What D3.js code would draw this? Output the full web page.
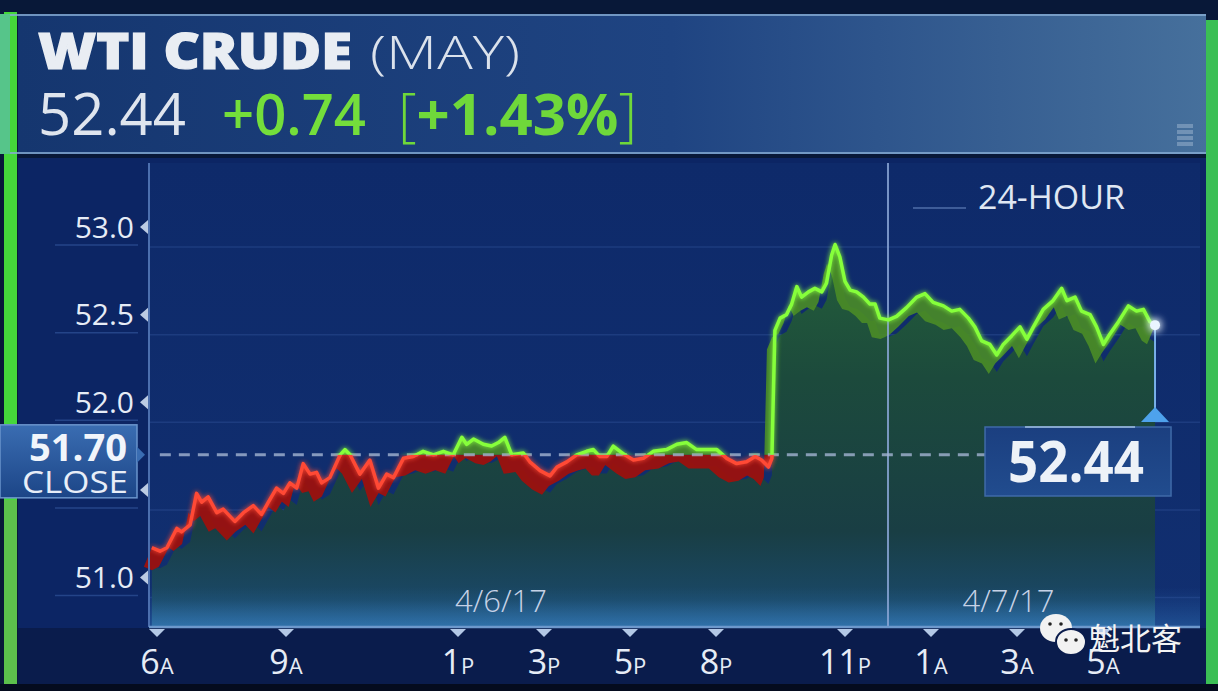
<!DOCTYPE html>
<html>
<head>
<meta charset="utf-8">
<script src="https://cdn.jsdelivr.net/npm/d3@7"></script>
<style>
  html, body { margin: 0; padding: 0; background: #07142f; }
  svg { display: block; font-family: 'Open Sans', 'DejaVu Sans', sans-serif; }
</style>
</head>
<body>
<div id="chart"></div>
<script>
// trading hours since 6A (the 5P-6P break is skipped) and WTI price
const hours = [
  -0.12, 0.07, 0.23, 0.46, 0.57, 0.77, 0.92, 1.04, 1.19, 1.39,
  1.54, 1.81, 2.01, 2.24, 2.43, 2.59, 2.78, 2.94, 3.09, 3.25,
  3.40, 3.56, 3.71, 3.83, 4.02, 4.26, 4.37, 4.49, 4.72, 4.95,
  5.15, 5.34, 5.50, 5.73, 5.96, 6.19, 6.43, 6.66, 6.89, 7.09,
  7.20, 7.36, 7.59, 7.78, 7.94, 8.09, 8.25, 8.52, 8.67, 8.91,
  9.14, 9.30, 9.53, 9.76, 9.99, 10.15, 10.30, 10.46, 10.61, 10.77,
  10.88, 11.08, 11.31, 11.54, 11.85, 12.09, 12.32, 12.55, 12.78, 13.02,
  13.25, 13.48, 13.71, 13.91, 14.06, 14.22, 14.30,
  14.32,
  14.37, 14.49, 14.64, 14.76, 14.88, 14.99, 15.15, 15.30, 15.46, 15.57,
  15.69, 15.77, 15.88, 16.00, 16.12, 16.27, 16.43, 16.58, 16.70, 16.81,
  17.01, 17.20, 17.43, 17.67, 17.86, 18.05, 18.29, 18.48, 18.67, 18.87,
  19.02, 19.18, 19.37, 19.53, 19.68, 19.88, 20.07, 20.23, 20.38, 20.61,
  20.84, 21.04, 21.16, 21.35, 21.50, 21.70, 21.85, 22.01, 22.16, 22.36,
  22.59, 22.78, 22.94, 23.09, 23.21
];
const prices = [
  51.17, 51.15, 51.17, 51.28, 51.26, 51.30, 51.48, 51.43, 51.46, 51.37,
  51.39, 51.32, 51.37, 51.41, 51.36, 51.43, 51.51, 51.48, 51.54, 51.51,
  51.65, 51.59, 51.60, 51.54, 51.57, 51.70, 51.73, 51.70, 51.59, 51.67,
  51.51, 51.59, 51.57, 51.68, 51.69, 51.72, 51.70, 51.72, 51.70, 51.80,
  51.76, 51.79, 51.76, 51.75, 51.77, 51.80, 51.70, 51.71, 51.66, 51.61,
  51.58, 51.63, 51.66, 51.70, 51.72, 51.73, 51.69, 51.69, 51.75, 51.72,
  51.70, 51.67, 51.68, 51.72, 51.73, 51.76, 51.77, 51.73, 51.73, 51.73,
  51.68, 51.65, 51.66, 51.69, 51.67, 51.63, 51.68,
  51.90,
  52.41, 52.48, 52.50, 52.56, 52.66, 52.60, 52.63, 52.65, 52.63, 52.68,
  52.84, 52.90, 52.83, 52.69, 52.64, 52.63, 52.60, 52.56, 52.56, 52.48,
  52.47, 52.49, 52.54, 52.60, 52.62, 52.57, 52.55, 52.52, 52.53, 52.48,
  52.43, 52.35, 52.33, 52.27, 52.33, 52.38, 52.43, 52.36, 52.43, 52.53,
  52.58, 52.65, 52.58, 52.60, 52.52, 52.50, 52.43, 52.33, 52.39, 52.46,
  52.55, 52.52, 52.53, 52.46, 52.44
];

const yTicks = [51.0, 51.5, 52.0, 52.5, 53.0];
const xTickHours = [0, 3, 7, 9, 11, 13, 16, 18, 20, 22];
const xTickLabels = ['6A', '9A', '1P', '3P', '5P', '8P', '11P', '1A', '3A', '5A'];
const dateHours = [8, 19.8];
const dateLabels = ['4/6/17', '4/7/17'];
const midnightHour = 17;

const closePrice = 51.70;
const lastPrice = 52.44;
const netChange = '+0.74';
const pctChange = '+1.43%';

const W = 1218, H = 691;
const plot = { left: 149, right: 1200, top: 163, bottom: 627 };

const data = hours.map((h, i) => ({ h, p: prices[i] }));

const x = d3.scaleLinear().domain([0, 22]).range([157, 1103]);
const y = d3.scaleLinear().domain([51, 53]).range([577.5, 227]);

const svg = d3.select('#chart').append('svg')
    .attr('width', W)
    .attr('height', H);

const defs = svg.append('defs');

function linGrad(id, stops, vertical = true, units) {
    const g = defs.append('linearGradient').attr('id', id)
        .attr('x1', 0).attr('y1', 0)
        .attr('x2', vertical ? 0 : 1).attr('y2', vertical ? 1 : 0);
    if (units) {
        g.attr('gradientUnits', 'userSpaceOnUse')
            .attr('x1', units[0]).attr('y1', units[1])
            .attr('x2', units[2]).attr('y2', units[3]);
    }
    stops.forEach(s => g.append('stop')
        .attr('offset', s[0])
        .attr('stop-color', s[1])
        .attr('stop-opacity', s[2] ?? 1));
}

linGrad('headerGrad', [[0, '#15366f'], [0.55, '#1f4482'], [1, '#46709c']], false);
linGrad('plotGrad', [[0, '#0e2a6a'], [1, '#112f70']]);
linGrad('fillGrad', [[0, '#24603a'], [0.35, '#1c4a3c'], [0.75, '#193e44'], [0.93, '#1a4866'], [1, '#2a6496']],
    true, [0, y(52.9), 0, plot.bottom]);
linGrad('closeBox', [[0, '#3a6db2'], [1, '#1c4587']]);
linGrad('lastBox', [[0, '#1b3f80'], [1, '#214c8e']]);
linGrad('bottomGlow', [[0, '#2f78c0', 0], [1, '#3b8ad0', 0.35]]);

const glow = defs.append('filter').attr('id', 'glow')
    .attr('x', '-10%').attr('y', '-10%').attr('width', '120%').attr('height', '120%');
glow.append('feGaussianBlur').attr('stdDeviation', 2.5).attr('result', 'b');
const merge = glow.append('feMerge');
merge.append('feMergeNode').attr('in', 'b');
merge.append('feMergeNode').attr('in', 'SourceGraphic');

const dotGlow = defs.append('filter').attr('id', 'dotGlow')
    .attr('x', '-200%').attr('y', '-200%').attr('width', '500%').attr('height', '500%');
dotGlow.append('feGaussianBlur').attr('stdDeviation', 4).attr('result', 'b');
const m2 = dotGlow.append('feMerge');
m2.append('feMergeNode').attr('in', 'b');
m2.append('feMergeNode').attr('in', 'b');
m2.append('feMergeNode').attr('in', 'SourceGraphic');

const yClose = y(closePrice);
defs.append('clipPath').attr('id', 'above')
    .append('rect').attr('x', 0).attr('y', 0).attr('width', W).attr('height', yClose);
defs.append('clipPath').attr('id', 'below')
    .append('rect').attr('x', 0).attr('y', yClose).attr('width', W).attr('height', H - yClose);

// ---- backgrounds ----
svg.append('rect').attr('width', W).attr('height', H).attr('fill', '#081838');
svg.append('rect').attr('x', 18).attr('y', 158).attr('width', 1188).attr('height', 470).attr('fill', '#0c2564');
svg.append('rect')
    .attr('x', plot.left).attr('y', plot.top)
    .attr('width', plot.right - plot.left).attr('height', plot.bottom - plot.top)
    .attr('fill', 'url(#plotGrad)');
svg.append('rect').attr('x', 18).attr('y', 628).attr('width', 1188).attr('height', 56).attr('fill', '#0a1c4c');
svg.append('rect').attr('x', 0).attr('y', 684).attr('width', W).attr('height', 7).attr('fill', '#040b1e');

// side bars
svg.append('rect').attr('x', 4).attr('y', 12).attr('width', 13).attr('height', 672).attr('fill', '#45d73a');
svg.append('rect').attr('x', 4).attr('y', 500).attr('width', 13).attr('height', 184).attr('fill', '#5cc04c');
svg.append('rect').attr('x', 1206).attr('y', 20).attr('width', 12).attr('height', 664).attr('fill', '#3bbf55');

// ---- header ----
svg.append('rect').attr('x', 18).attr('y', 14).attr('width', 1188).attr('height', 140).attr('fill', 'url(#headerGrad)');
svg.append('rect').attr('x', 0).attr('y', 14).attr('width', 10).attr('height', 140).attr('fill', '#56c58a');
[15, 153].forEach(v => svg.append('line')
    .attr('x1', 10).attr('x2', 1206).attr('y1', v).attr('y2', v)
    .attr('stroke', '#86acd4').attr('stroke-width', 2).attr('opacity', 0.8));

svg.append('text').attr('x', 38).attr('y', 69)
    .attr('font-size', 49).attr('font-weight', 800).attr('fill', '#e9edf3')
    .attr('stroke', '#e9edf3').attr('stroke-width', 1.2)
    .attr('textLength', 314).attr('lengthAdjust', 'spacingAndGlyphs')
    .text('WTI CRUDE');
svg.append('text').attr('x', 370).attr('y', 69)
    .attr('font-size', 46).attr('font-weight', 300).attr('fill', '#dbe2ec')
    .attr('textLength', 150).attr('lengthAdjust', 'spacingAndGlyphs')
    .text('(MAY)');
svg.append('text').attr('x', 38).attr('y', 135)
    .attr('font-size', 58).attr('fill', '#dfe5ee')
    .attr('textLength', 148).attr('lengthAdjust', 'spacingAndGlyphs')
    .text(lastPrice.toFixed(2));
svg.append('text').attr('x', 222).attr('y', 135)
    .attr('font-size', 58).attr('font-weight', 600).attr('fill', '#74de3b')
    .attr('textLength', 144).attr('lengthAdjust', 'spacingAndGlyphs')
    .text(netChange);
const pct = svg.append('text').attr('x', 398).attr('y', 135)
    .attr('font-size', 58).attr('fill', '#6fd83a')
    .attr('textLength', 239).attr('lengthAdjust', 'spacingAndGlyphs');
pct.append('tspan').attr('font-weight', 300).text('[');
pct.append('tspan').attr('font-weight', 700).text(pctChange);
pct.append('tspan').attr('font-weight', 300).text(']');

// small header icon
d3.range(4).forEach(i => svg.append('rect')
    .attr('x', 1177).attr('y', 124 + i * 6).attr('width', 16).attr('height', 4)
    .attr('fill', '#a9bfd8').attr('opacity', 0.45));

// ---- grid ----
const grid = svg.append('g');
grid.selectAll('line.h')
    .data(yTicks)
    .enter().append('line')
    .attr('x1', plot.left).attr('x2', plot.right)
    .attr('y1', d => y(d) + 20).attr('y2', d => y(d) + 20)
    .attr('stroke', '#2b4c92').attr('stroke-width', 1.5).attr('opacity', 0.5);
grid.selectAll('line.u')
    .data(yTicks)
    .enter().append('line')
    .attr('x1', 55).attr('x2', 138)
    .attr('y1', d => y(d) + 18).attr('y2', d => y(d) + 18)
    .attr('stroke', '#2b4c92').attr('stroke-width', 1.5).attr('opacity', 0.8);

// ---- price fill, ribbon, line ----
const ribbonDx = -8, ribbonDy = 19;

const fillArea = d3.area()
    .x(d => x(d.h))
    .y0(plot.bottom)
    .y1(d => y(d.p) + ribbonDy - 2);

svg.append('path')
    .datum(data)
    .attr('d', fillArea)
    .attr('fill', 'url(#fillGrad)');

svg.append('rect')
    .attr('x', plot.left).attr('y', plot.bottom - 40)
    .attr('width', plot.right - plot.left).attr('height', 40)
    .attr('fill', 'url(#bottomGlow)');

const ribbon = d3.area()
    .x1(d => x(d.h)).y1(d => y(d.p))
    .x0(d => x(d.h) + ribbonDx).y0(d => y(d.p) + ribbonDy);

svg.append('path').datum(data)
    .attr('d', ribbon)
    .attr('clip-path', 'url(#below)')
    .attr('fill', '#9c110e').attr('opacity', 0.95);
svg.append('path').datum(data)
    .attr('d', ribbon)
    .attr('clip-path', 'url(#above)')
    .attr('fill', '#4a8c27').attr('opacity', 0.9);

// midnight divider
svg.append('line')
    .attr('x1', x(midnightHour)).attr('x2', x(midnightHour))
    .attr('y1', plot.top).attr('y2', plot.bottom)
    .attr('stroke', '#8aa6d6').attr('stroke-width', 2).attr('opacity', 0.85);

// close dashed line
svg.append('line')
    .attr('x1', x(hours[0]) + 8).attr('x2', x(hours[hours.length - 1]))
    .attr('y1', yClose).attr('y2', yClose)
    .attr('stroke', '#a3b4d2').attr('stroke-width', 3)
    .attr('stroke-dasharray', '11 8').attr('opacity', 0.8);

const line = d3.line().x(d => x(d.h)).y(d => y(d.p));

svg.append('path').datum(data)
    .attr('d', line)
    .attr('clip-path', 'url(#below)')
    .attr('fill', 'none')
    .attr('stroke', '#ff4a34').attr('stroke-width', 3.5)
    .attr('stroke-linejoin', 'round')
    .attr('filter', 'url(#glow)');
svg.append('path').datum(data)
    .attr('d', line)
    .attr('clip-path', 'url(#above)')
    .attr('fill', 'none')
    .attr('stroke', '#86ff3a').attr('stroke-width', 3.5)
    .attr('stroke-linejoin', 'round')
    .attr('filter', 'url(#glow)');

// ---- axes ----
svg.append('line')
    .attr('x1', plot.left).attr('x2', plot.left)
    .attr('y1', plot.top).attr('y2', plot.bottom)
    .attr('stroke', '#4c6fae').attr('stroke-width', 2);
svg.append('line')
    .attr('x1', plot.left).attr('x2', plot.right)
    .attr('y1', plot.bottom).attr('y2', plot.bottom)
    .attr('stroke', '#6d98cc').attr('stroke-width', 2.5);

// the 51.5 label sits hidden behind the close box, only its marker shows
const yAxis = svg.append('g');
yAxis.selectAll('text')
    .data(yTicks.filter(t => Math.abs(y(t) - yClose) > 40))
    .enter().append('text')
    .attr('x', 134)
    .attr('y', d => y(d))
    .attr('dy', '0.36em')
    .attr('text-anchor', 'end')
    .attr('font-size', 30)
    .attr('fill', '#e6ecf6')
    .text(d => d3.format('.1f')(d));
yAxis.selectAll('path')
    .data(yTicks)
    .enter().append('path')
    .attr('d', d => `M148,${y(d) - 7} L140,${y(d)} L148,${y(d) + 7} Z`)
    .attr('fill', '#bccbe3');

const xAxis = svg.append('g');
xAxis.selectAll('path')
    .data(xTickHours)
    .enter().append('path')
    .attr('d', d => `M${x(d) - 8},629 L${x(d) + 8},629 L${x(d)},637 Z`)
    .attr('fill', '#b3c8e6');
const xl = xAxis.selectAll('text')
    .data(xTickHours)
    .enter().append('text')
    .attr('x', d => x(d))
    .attr('y', 674)
    .attr('text-anchor', 'middle')
    .attr('fill', '#e6ecf6');
xl.append('tspan')
    .attr('font-size', 34)
    .text((d, i) => xTickLabels[i].slice(0, -1));
xl.append('tspan')
    .attr('font-size', 22)
    .text((d, i) => xTickLabels[i].slice(-1));

svg.selectAll('text.date')
    .data(dateHours)
    .enter().append('text')
    .attr('x', d => x(d))
    .attr('y', 612)
    .attr('text-anchor', 'middle')
    .attr('font-size', 31)
    .attr('font-weight', 300)
    .attr('fill', '#c6d2e7')
    .text((d, i) => dateLabels[i]);

// 24-HOUR tag
svg.append('line')
    .attr('x1', 913).attr('x2', 966).attr('y1', 208).attr('y2', 208)
    .attr('stroke', '#4f6ea8').attr('stroke-width', 1.5);
svg.append('text')
    .attr('x', 978).attr('y', 209)
    .attr('font-size', 33)
    .attr('fill', '#dfe7f3')
    .attr('textLength', 147).attr('lengthAdjust', 'spacingAndGlyphs')
    .text('24-HOUR');

// ---- close label ----
const closeG = svg.append('g');
closeG.append('rect')
    .attr('x', 0).attr('y', yClose - 30)
    .attr('width', 137).attr('height', 73)
    .attr('fill', 'url(#closeBox)')
    .attr('stroke', '#6a94cc').attr('stroke-width', 1.5);
closeG.append('path')
    .attr('d', `M137,${yClose - 8} L145,${yClose} L137,${yClose + 8} Z`)
    .attr('fill', '#3a6db2');
closeG.append('text')
    .attr('x', 78).attr('y', yClose + 6)
    .attr('text-anchor', 'middle')
    .attr('font-size', 38).attr('font-weight', 700)
    .attr('fill', '#f1f5fb')
    .attr('textLength', 98).attr('lengthAdjust', 'spacingAndGlyphs')
    .text(closePrice.toFixed(2));
closeG.append('text')
    .attr('x', 75).attr('y', yClose + 38)
    .attr('text-anchor', 'middle')
    .attr('font-size', 31)
    .attr('fill', '#e8eef8')
    .attr('textLength', 106).attr('lengthAdjust', 'spacingAndGlyphs')
    .text('CLOSE');

// ---- last price marker ----
const xEnd = x(hours[hours.length - 1]);
const yEnd = y(lastPrice);
svg.append('line')
    .attr('x1', xEnd).attr('x2', xEnd)
    .attr('y1', yEnd).attr('y2', 410)
    .attr('stroke', '#79b0ea').attr('stroke-width', 2);
svg.append('path')
    .attr('d', `M${xEnd - 14},422 L${xEnd},407 L${xEnd + 14},422 Z`)
    .attr('fill', '#4ea2ec');
svg.append('circle')
    .attr('cx', xEnd).attr('cy', yEnd).attr('r', 5)
    .attr('fill', '#eaf5ff')
    .attr('filter', 'url(#dotGlow)');

const lastG = svg.append('g');
lastG.append('rect')
    .attr('x', xEnd - 170).attr('y', 427)
    .attr('width', 186).attr('height', 69)
    .attr('fill', 'url(#lastBox)')
    .attr('stroke', '#3f6aa8').attr('stroke-width', 1.5);
lastG.append('line')
    .attr('x1', xEnd - 130).attr('x2', xEnd - 20).attr('y1', 427).attr('y2', 427)
    .attr('stroke', '#a9c6e8').attr('stroke-width', 2).attr('opacity', 0.7);
lastG.append('text')
    .attr('x', xEnd - 79).attr('y', 482)
    .attr('text-anchor', 'middle')
    .attr('font-size', 58).attr('font-weight', 700)
    .attr('fill', '#edf2f8')
    .attr('textLength', 136).attr('lengthAdjust', 'spacingAndGlyphs')
    .text(lastPrice.toFixed(2));

// ---- watermark ----
const wm = svg.append('g');
wm.append('ellipse').attr('cx', 1056).attr('cy', 628).attr('rx', 16).attr('ry', 14).attr('fill', '#f2f2f2');
wm.append('ellipse').attr('cx', 1071).attr('cy', 642).attr('rx', 15).attr('ry', 13)
    .attr('fill', '#f2f2f2').attr('stroke', '#0a1c4c').attr('stroke-width', 2);
[[1050, 624], [1061, 624], [1066, 640], [1076, 640]].forEach(c => wm.append('circle')
    .attr('cx', c[0]).attr('cy', c[1]).attr('r', 1.8).attr('fill', '#222'));
wm.append('text')
    .attr('x', 1089).attr('y', 650)
    .attr('font-family', "'Noto Sans CJK SC', sans-serif")
    .attr('font-size', 31)
    .attr('fill', '#f4f4f4')
    .text('魁北客');
</script>
</body>
</html>
